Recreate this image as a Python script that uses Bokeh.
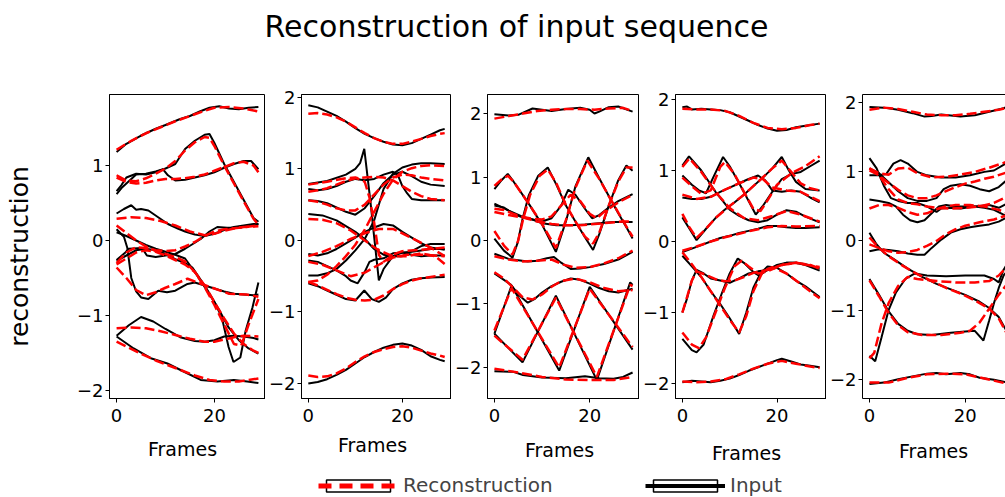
import math
from bokeh.plotting import figure
from bokeh.layouts import column, row
from bokeh.models import Label, Legend, LegendItem, FixedTicker, LinearAxis, Range1d
from bokeh.embed import file_html
from bokeh.resources import INLINE

FONT = "DejaVu Sans"
TITLE = "Reconstruction of input sequence"
Y_LABEL = "reconstruction"
X_LABEL = "Frames"
X_TICKS = [0, 20]
Y_TICKS = [[-2, -1, 0, 1], [-2, -1, 0, 1, 2], [-2, -1, 0, 1, 2], [-2, -1, 0, 1, 2], [-2, -1, 0, 1, 2]]
TICK_TEXT = {-2: "\u22122", -1: "\u22121", 0: "0", 1: "1", 2: "2", 20: "20"}
LEGEND_LABELS = ["Reconstruction", "Input"]

# ---------------- panel 1 (frame, value) ----------------
P1_IN = [
    [(0,1.18),(2,1.29),(5,1.40),(8,1.49),(10,1.54),(13,1.62),(15,1.66),(17,1.72),(19,1.77),(21,1.79),(23,1.76),(25,1.75),(27,1.77),(29,1.78)],
    [(0,0.66),(1,0.74),(2,0.84),(4,0.89),(6,0.88),(8,0.91),(10,0.96),(12,1.02),(13,1.12),(14,1.22),(16,1.33),(18,1.41),(19,1.42),(20,1.30),(22,1.02),(24,0.78),(26,0.54),(28,0.30),(29,0.25)],
    [(0,0.62),(1,0.70),(2,0.76),(4,0.88),(6,0.89),(8,0.92),(9.5,0.95),(10.5,0.87),(12,0.80),(14,0.81),(16,0.84),(18,0.87),(20,0.91),(22,0.97),(24,1.02),(26,1.06),(27.5,1.06),(29,0.95)],
    [(0,0.36),(1.5,0.42),(3,0.47),(4,0.41),(5,0.42),(6.5,0.40),(8.5,0.31),(10.5,0.22),(12.5,0.16),(14,0.12),(16,0.08),(18,0.06),(20,0.09),(22,0.14),(24,0.18),(26,0.20),(28,0.22),(29,0.22)],
    [(0,0.15),(1.5,0.05),(2.2,-0.10),(3,-0.50),(4,-0.68),(5,-0.76),(6.5,-0.78),(8.5,-0.67),(10.3,-0.69),(12,-0.67),(14.5,-0.58),(16,-0.56),(18,-0.60),(20,-0.64),(22,-0.68),(24,-0.71),(26,-0.72),(28,-0.73),(29,-0.72)],
    [(0,-1.27),(2.5,-1.13),(5,-1.02),(7.5,-1.08),(10,-1.18),(13,-1.29),(16,-1.34),(18,-1.35),(20,-1.33),(22,-1.28),(24,-1.27),(26,-1.28),(28,-1.30),(29,-1.32)],
    [(0,0.11),(2,0.06),(4,0.00),(6,-0.06),(8,-0.11),(10,-0.15),(12,-0.19),(14,-0.24),(16,-0.42),(18,-0.62),(20,-0.82),(21.5,-1.02),(22.9,-1.42),(23.9,-1.62),(25.3,-1.56),(26.4,-1.20),(27.8,-0.89),(29,-0.56)],
    [(0,-0.27),(2,-0.20),(4,-0.13),(6,-0.11),(8,-0.13),(10,-0.18),(12,-0.25),(14,-0.30),(15.5,-0.36),(18.2,-0.62),(21,-0.93),(22.9,-1.16),(25,-1.33),(27,-1.44),(29,-1.51)],
    [(0,-1.28),(3.5,-1.44),(7,-1.57),(10.4,-1.64),(13.8,-1.75),(17.2,-1.86),(20.6,-1.88),(24,-1.86),(26.7,-1.88),(29,-1.90)],
    [(0,-0.26),(1.8,-0.16),(2.5,-0.11),(5.2,-0.10),(6.2,-0.20),(8,-0.22),(10,-0.20),(12,-0.18),(14,-0.11),(16,-0.03),(17.2,0.02),(19,0.12),(20.6,0.18),(22.6,0.17),(25,0.17),(29,0.22)],
]
P1_RC = [
    [(0,1.21),(3,1.33),(6,1.43),(9,1.51),(12,1.59),(15,1.66),(18,1.73),(20,1.77),(23,1.78),(26,1.76),(29,1.72)],
    [(0,0.87),(2,0.80),(4,0.79),(6,0.83),(8,0.89),(10,0.96),(12,1.06),(14,1.20),(16,1.31),(18,1.38),(19,1.37),(20,1.26),(22,1.00),(24,0.76),(26,0.52),(28,0.29),(29,0.21)],
    [(0,0.84),(2,0.78),(4,0.76),(6,0.77),(8,0.80),(10,0.82),(12,0.82),(14,0.83),(16,0.85),(18,0.88),(20,0.93),(22,0.98),(24,1.03),(26,1.05),(28,1.00),(29,0.91)],
    [(0,0.29),(3,0.31),(6,0.30),(9,0.26),(12,0.20),(15,0.12),(18,0.07),(20,0.09),(22,0.13),(24,0.16),(26,0.18),(29,0.19)],
    [(0,-0.36),(2,-0.50),(4,-0.66),(6,-0.73),(8,-0.69),(10,-0.63),(12,-0.58),(14.5,-0.51),(17,-0.57),(20,-0.64),(23,-0.71),(26.5,-0.72),(29,-0.75)],
    [(0,-1.17),(3,-1.16),(6,-1.17),(9,-1.21),(12,-1.26),(15,-1.31),(18,-1.35),(20,-1.35),(22,-1.32),(24,-1.29),(26,-1.27),(29,-1.28)],
    [(0,0.20),(2,0.10),(4,0.00),(6,-0.08),(8,-0.14),(10,-0.18),(12,-0.22),(14,-0.28),(16,-0.42),(18,-0.62),(20,-0.86),(22,-1.12),(24,-1.38),(25.5,-1.40),(27,-1.12),(29,-0.78)],
    [(0,-0.32),(2,-0.24),(4,-0.16),(6,-0.13),(8,-0.15),(10,-0.20),(12,-0.26),(14,-0.32),(16,-0.42),(18,-0.60),(20,-0.82),(22,-1.04),(24,-1.24),(26,-1.38),(28,-1.47),(29,-1.50)],
    [(0,-1.35),(4,-1.48),(8,-1.60),(12,-1.70),(16,-1.80),(19,-1.86),(22,-1.88),(25,-1.88),(29,-1.84)],
    [(0,-0.30),(2,-0.16),(4,-0.09),(6,-0.10),(8,-0.13),(10,-0.14),(12,-0.13),(14,-0.08),(16,-0.02),(18,0.06),(20,0.12),(22,0.15),(25,0.17),(29,0.20)],
]

# ---------------- panel 2 ----------------
P2_IN = [
    [(0,1.89),(2,1.86),(4,1.80),(6,1.74),(8,1.66),(10,1.57),(12,1.49),(14,1.43),(16,1.38),(18,1.34),(20,1.33),(22,1.36),(24,1.42),(26,1.48),(28,1.54),(29,1.56)],
    [(0,-2.00),(2,-1.98),(4,-1.94),(6,-1.88),(8,-1.81),(10,-1.72),(12,-1.63),(14,-1.56),(16,-1.50),(18,-1.46),(20,-1.44),(22,-1.47),(24,-1.53),(26,-1.62),(28,-1.67),(29,-1.69)],
    [(0,-0.49),(2,-0.49),(4,-0.46),(6,-0.40),(8,-0.28),(10,-0.14),(12,0.02),(14,0.28),(16,0.72),(18,0.93),(20,1.02),(22,1.06),(24,1.08),(26,1.08),(29,1.07)],
    [(0,0.79),(4,0.83),(8,0.92),(10,1.00),(11,1.08),(11.9,1.28),(13.2,0.55),(14,0.05),(15,-0.56),(16,-0.40),(18,-0.22),(20,-0.17),(22,-0.16),(24,-0.14),(26,-0.12),(29,-0.12)],
    [(0,-0.60),(2,-0.64),(4,-0.70),(6,-0.76),(8,-0.82),(10,-0.84),(11.9,-0.70),(13.5,-0.82),(15,-0.86),(16.5,-0.80),(18,-0.68),(20,-0.60),(22,-0.55),(24,-0.53),(26,-0.52),(29,-0.51)],
    [(0,0.72),(2,0.70),(4,0.72),(6,0.76),(8,0.82),(10,0.86),(12,0.84),(14,0.86),(16,0.92),(18,0.96),(19,0.92),(20,0.76),(21,0.66),(22,0.58),(24,0.56),(26,0.56),(29,0.56)],
    [(0,0.56),(2,0.55),(4,0.52),(6,0.46),(8,0.40),(10,0.36),(12,0.45),(14,0.62),(16,0.80),(18,0.92),(20,0.96),(22,0.90),(24,0.82),(26,0.78),(29,0.76)],
    [(0,0.37),(3,0.35),(6,0.28),(8,0.20),(10,0.12),(12,0.02),(14,-0.12),(16,-0.20),(18,-0.22),(20,-0.22),(22,-0.15),(24,-0.08),(26,-0.05),(29,-0.05)],
    [(0,-0.19),(2,-0.21),(4,-0.18),(6,-0.12),(8,-0.04),(10,0.04),(12,0.12),(14,0.18),(16,0.23),(18,0.21),(20,0.12),(22,0.04),(24,-0.04),(26,-0.10),(29,-0.13)],
    [(0,-0.28),(2,-0.30),(4,-0.36),(6,-0.42),(8,-0.50),(9,-0.56),(10.5,-0.60),(12,-0.44),(13,-0.30),(14,-0.27),(16,-0.25),(18,-0.18),(20,-0.17),(22,-0.20),(24,-0.22),(26,-0.21),(29,-0.21)],
]
P2_RC = [
    [(0,1.77),(2,1.78),(4,1.76),(6,1.72),(8,1.66),(10,1.58),(12,1.50),(14,1.43),(16,1.38),(18,1.35),(20,1.35),(22,1.38),(24,1.42),(26,1.46),(28,1.49),(29,1.50)],
    [(0,-1.89),(2,-1.91),(4,-1.90),(6,-1.86),(8,-1.79),(10,-1.70),(12,-1.62),(14,-1.56),(16,-1.52),(18,-1.49),(20,-1.48),(22,-1.50),(24,-1.54),(26,-1.58),(28,-1.61),(29,-1.63)],
    [(0,-0.58),(2,-0.56),(4,-0.48),(6,-0.36),(8,-0.22),(10,-0.06),(12,0.15),(14,0.40),(16,0.65),(18,0.85),(20,0.96),(22,1.01),(24,1.04),(26,1.05),(29,1.04)],
    [(0,0.78),(4,0.82),(8,0.87),(10,0.88),(12,0.82),(13,0.60),(14,0.25),(15,-0.20),(16,-0.30),(18,-0.20),(20,-0.15),(24,-0.13),(29,-0.10)],
    [(0,-0.58),(2,-0.63),(4,-0.69),(6,-0.75),(8,-0.80),(10,-0.83),(12,-0.84),(14,-0.83),(16,-0.77),(18,-0.68),(20,-0.61),(22,-0.56),(24,-0.53),(26,-0.51),(28,-0.49),(29,-0.48)],
    [(0,0.68),(2,0.70),(4,0.73),(6,0.78),(8,0.83),(10,0.87),(12,0.88),(14,0.89),(16,0.88),(18,0.84),(20,0.76),(22,0.68),(24,0.62),(26,0.58),(29,0.56)],
    [(0,0.56),(2,0.54),(4,0.50),(6,0.45),(8,0.42),(10,0.42),(12,0.50),(14,0.64),(16,0.78),(18,0.88),(20,0.92),(22,0.91),(24,0.88),(26,0.86),(29,0.84)],
    [(0,0.30),(3,0.29),(6,0.24),(9,0.14),(12,0.00),(15,-0.14),(18,-0.22),(21,-0.22),(24,-0.18),(27,-0.22),(29,-0.33)],
    [(0,-0.22),(3,-0.16),(6,-0.08),(9,0.02),(12,0.10),(15,0.16),(18,0.16),(20,0.10),(23,0.00),(26,-0.10),(29,-0.22)],
    [(0,-0.30),(3,-0.34),(6,-0.42),(9,-0.50),(12,-0.45),(15,-0.34),(18,-0.24),(21,-0.20),(24,-0.20),(29,-0.22)],
]

# ---------------- panel 3 ----------------
P3_IN = [
    [(0,1.99),(3,1.97),(5,1.98),(8,2.08),(10,2.06),(12,2.04),(15,2.07),(18,2.09),(20,2.06),(21,2.00),(22,2.03),(24,2.10),(26,2.11),(29,2.03)],
    [(0,-2.06),(4,-2.07),(6,-2.12),(10,-2.16),(15,-2.17),(19,-2.14),(22,-2.17),(25,-2.18),(27,-2.15),(29,-2.08)],
    [(0,0.81),(1.5,0.95),(2.8,1.05),(4,0.93),(7.2,0.58),(10,0.25),(12.9,-0.18),(15,0.30),(17,0.85),(19.7,1.31),(22,0.98),(24,0.70),(26,0.43),(28,0.17),(29,0.03)],
    [(0,0.03),(2,-0.16),(3.8,-0.27),(4.9,-0.03),(5.9,0.34),(7.2,0.71),(9.2,1.02),(11.2,1.15),(13,0.88),(15,0.55),(17,0.30),(19,0.05),(20.7,-0.15),(22,0.10),(24,0.55),(26,0.95),(27.7,1.18),(29,1.10)],
    [(0,0.58),(3,0.47),(6,0.37),(8,0.33),(10,0.27),(13,0.24),(16,0.24),(19,0.25),(22,0.27),(25,0.29),(29,0.29)],
    [(0,0.55),(2,0.52),(4,0.42),(6,0.36),(8,0.33),(10,0.30),(12,0.35),(14,0.55),(15.5,0.80),(17,0.72),(19,0.50),(20.5,0.35),(22,0.40),(24,0.52),(26,0.62),(29,0.73)],
    [(0,-0.21),(3,-0.29),(5,-0.31),(7,-0.33),(9,-0.32),(11,-0.28),(12.5,-0.26),(14,-0.35),(16,-0.45),(18,-0.44),(20,-0.42),(23,-0.37),(26,-0.30),(29,-0.18)],
    [(0,-0.52),(2,-0.62),(3.5,-0.70),(5,-0.85),(7,-0.98),(8.5,-0.92),(10,-0.82),(12,-0.72),(14,-0.65),(16,-0.60),(18,-0.62),(20,-0.68),(22,-0.75),(24,-0.80),(26,-0.82),(29,-0.76)],
    [(0,-1.47),(3.6,-0.71),(13.6,-2.05),(20,-0.73),(29,-1.72)],
    [(0,-1.47),(5.9,-1.92),(12.9,-0.87),(21.5,-2.20),(28.5,-0.66),(29,-0.70)],
]
P3_RC = [
    [(0,1.92),(3,1.96),(6,2.00),(9,2.04),(12,2.06),(15,2.07),(18,2.07),(21,2.06),(24,2.08),(27,2.09),(29,2.04)],
    [(0,-2.02),(5,-2.08),(10,-2.15),(15,-2.19),(20,-2.20),(25,-2.20),(29,-2.15)],
    [(0,0.86),(1.5,0.96),(2.8,1.02),(4,0.93),(7,0.60),(10,0.26),(12.9,-0.12),(15,0.32),(17,0.83),(19.5,1.26),(22,0.97),(24,0.70),(26,0.44),(28,0.18),(29,0.06)],
    [(0,0.15),(2,-0.08),(3.8,-0.22),(5,0.00),(6,0.33),(7.5,0.72),(9.5,1.02),(11.2,1.12),(13,0.90),(15,0.56),(17,0.30),(19,0.06),(20.7,-0.05),(22,0.12),(24,0.55),(26,0.93),(27.7,1.15),(29,1.15)],
    [(0,0.45),(3,0.40),(6,0.36),(9,0.30),(12,0.26),(15,0.24),(18,0.24),(21,0.26),(24,0.28),(27,0.30),(29,0.30)],
    [(0,0.50),(2,0.48),(4,0.42),(6,0.37),(8,0.34),(10,0.33),(12,0.38),(14,0.55),(16,0.72),(18,0.62),(20,0.42),(21.5,0.35),(23,0.45),(26,0.60),(29,0.72)],
    [(0,-0.25),(3,-0.30),(6,-0.33),(9,-0.32),(12,-0.30),(14.5,-0.38),(17,-0.43),(20,-0.42),(23,-0.36),(26,-0.28),(29,-0.16)],
    [(0,-0.50),(2,-0.60),(4,-0.75),(6,-0.90),(8,-0.93),(10,-0.85),(12,-0.73),(14,-0.64),(17,-0.60),(20,-0.66),(23,-0.75),(26,-0.80),(29,-0.78)],
    [(0,-1.42),(3.6,-0.75),(13.6,-2.00),(20,-0.76),(29,-1.68)],
    [(0,-1.50),(5.9,-1.88),(12.9,-0.90),(21.5,-2.15),(28.5,-0.70),(29,-0.72)],
]

# ---------------- panel 4 ----------------
P4_IN = [
    [(0,1.89),(1,1.90),(2,1.86),(4,1.87),(6,1.86),(8,1.85),(10,1.82),(12,1.76),(14,1.70),(16,1.64),(18,1.59),(20,1.56),(22,1.57),(24,1.61),(26,1.63),(29,1.66)],
    [(0,-1.98),(2,-1.96),(4,-1.97),(6,-1.98),(8,-1.96),(10,-1.93),(12,-1.88),(14,-1.82),(16,-1.77),(18,-1.72),(20,-1.67),(21,-1.65),(23,-1.69),(25,-1.73),(27,-1.75),(29,-1.77)],
    [(0,1.07),(1.4,1.20),(4,1.00),(7,0.70),(10,0.45),(12,0.36),(14,0.30),(16,0.27),(18,0.30),(20,0.38),(22,0.44),(24,0.42),(26,0.35),(29,0.27)],
    [(0,0.93),(2,0.80),(3.5,0.72),(5,0.68),(6.5,0.90),(8.6,1.19),(10,1.06),(12,0.82),(14,0.57),(15.5,0.38),(17,0.50),(19,0.70),(21,0.88),(23,0.95),(25,0.98),(27,1.06),(29,1.14)],
    [(0,0.34),(1.5,0.18),(3,0.02),(5,0.18),(7,0.33),(9,0.45),(11,0.55),(13,0.66),(15,0.78),(17,0.90),(19,1.03),(21,1.19),(22.5,1.00),(24,0.84),(26,0.74),(29,0.72)],
    [(0,0.62),(2,0.60),(4,0.60),(6,0.63),(8,0.70),(10,0.76),(12,0.82),(14,0.88),(16,0.93),(17.5,0.86),(19,0.72),(21,0.70),(23,0.72),(25,0.70),(27,0.62),(29,0.55)],
    [(0,-0.15),(2,-0.10),(4,-0.05),(6,0.00),(8,0.05),(10,0.08),(12,0.12),(14,0.15),(16,0.18),(18,0.22),(20,0.22),(22,0.20),(24,0.19),(26,0.19),(29,0.20)],
    [(0,-1.37),(2,-1.53),(3,-1.56),(4.5,-1.45),(6.6,-1.04),(8.5,-0.70),(10,-0.45),(11.7,-0.24),(13,-0.30),(15,-0.43),(16.2,-0.48),(18,-0.40),(20,-0.33),(22,-0.30),(24,-0.30),(26,-0.33),(29,-0.41)],
    [(0,-0.20),(2,-0.35),(4,-0.50),(6,-0.70),(8,-0.88),(10,-1.08),(12,-1.30),(13.5,-1.00),(15,-0.65),(16.5,-0.45),(18,-0.35),(20,-0.37),(22,-0.45),(24,-0.55),(26,-0.63),(29,-0.78)],
    [(0,-1.00),(1,-0.80),(2,-0.55),(3,-0.40),(4.5,-0.45),(6,-0.52),(8,-0.55),(10,-0.58),(12,-0.52),(14,-0.45),(16,-0.42),(18,-0.40),(20,-0.35),(22,-0.30),(24,-0.30),(26,-0.32),(29,-0.38)],
]
P4_RC = [
    [(0,1.87),(3,1.86),(6,1.86),(9,1.84),(12,1.77),(15,1.67),(18,1.60),(21,1.58),(24,1.60),(27,1.64),(29,1.66)],
    [(0,-1.97),(3,-1.98),(6,-1.97),(9,-1.94),(12,-1.87),(15,-1.79),(18,-1.72),(21,-1.68),(24,-1.72),(27,-1.76),(29,-1.78)],
    [(0,1.05),(1.5,1.17),(4,0.98),(7,0.70),(10,0.47),(13,0.33),(16,0.30),(19,0.36),(22,0.43),(25,0.38),(29,0.28)],
    [(0,0.90),(2,0.78),(4,0.67),(6,0.72),(8,1.05),(9,1.12),(11,0.95),(13,0.70),(15,0.46),(16.5,0.43),(18,0.58),(20,0.80),(23,0.96),(26,1.06),(29,1.20)],
    [(0,0.39),(1.5,0.20),(3,0.05),(5,0.18),(7,0.33),(10,0.50),(13,0.66),(16,0.84),(19,1.03),(21,1.14),(23,0.98),(25,0.82),(27,0.75),(29,0.72)],
    [(0,0.66),(3,0.60),(6,0.63),(9,0.73),(12,0.82),(15,0.90),(17,0.88),(19,0.76),(22,0.72),(25,0.70),(29,0.57)],
    [(0,-0.13),(3,-0.07),(6,0.00),(9,0.06),(12,0.11),(15,0.16),(18,0.20),(21,0.22),(24,0.21),(29,0.22)],
    [(0,-1.28),(2,-1.45),(3.5,-1.50),(5,-1.35),(7,-1.00),(9,-0.65),(11,-0.35),(12.5,-0.27),(14,-0.35),(16,-0.45),(18,-0.42),(21,-0.33),(24,-0.30),(27,-0.33),(29,-0.38)],
    [(0,-0.15),(2,-0.32),(4,-0.50),(6,-0.70),(8,-0.90),(10,-1.10),(12,-1.28),(13.5,-1.05),(15,-0.70),(17,-0.42),(19,-0.36),(22,-0.45),(25,-0.60),(29,-0.80)],
    [(0,-1.00),(1,-0.78),(2,-0.55),(3,-0.42),(5,-0.47),(7,-0.53),(9,-0.56),(11,-0.55),(13,-0.50),(15,-0.44),(18,-0.40),(21,-0.33),(24,-0.30),(29,-0.36)],
]

# ---------------- panel 5 ----------------
P5_IN = [
    [(0,1.94),(3,1.93),(6,1.90),(9,1.85),(11.5,1.80),(13,1.81),(15,1.83),(18,1.81),(19,1.80),(22,1.82),(25,1.87),(28,1.92),(29,1.95)],
    [(0,-2.07),(3,-2.05),(6,-2.00),(9,-1.96),(12,-1.92),(14,-1.91),(16,-1.93),(19,-1.91),(21,-1.93),(23,-1.98),(26,-2.01),(29,-2.05)],
    [(0,-1.66),(1.2,-1.74),(2.5,-1.40),(4,-1.00),(5.5,-0.75),(7.5,-0.55),(9.5,-0.47),(12,-0.50),(16,-0.51),(20,-0.50),(24,-0.50),(26,-0.55),(27,-0.60),(28,-0.42),(29,-0.30)],
    [(0,-0.55),(2,-0.78),(4,-1.02),(6,-1.20),(8,-1.30),(10,-1.35),(13,-1.36),(17,-1.33),(20,-1.31),(22,-1.30),(23.8,-1.44),(25,-1.15),(26,-0.90),(27,-0.68),(28,-0.50),(29,-0.42)],
    [(0,0.12),(1.5,-0.05),(3,-0.17),(5,-0.26),(8,-0.40),(11,-0.52),(14,-0.62),(17,-0.70),(20,-0.78),(23,-0.88),(25,-0.97),(27,-1.10),(29,-1.35)],
    [(0,-0.15),(2,-0.12),(4,-0.13),(6,-0.15),(8,-0.18),(10,-0.20),(11.5,-0.20),(13,-0.10),(15,0.02),(17,0.12),(19,0.17),(21,0.20),(23,0.22),(25,0.24),(27,0.28),(29,0.35)],
    [(0,0.95),(2,0.95),(3.5,0.97),(5,1.12),(6.5,1.17),(8,1.12),(10,1.00),(12,0.95),(15,0.92),(18,0.92),(21,0.95),(24,1.00),(26,1.02),(28,1.10),(29,1.17)],
    [(0,1.05),(2,0.98),(4,0.85),(6,0.72),(8,0.62),(10,0.58),(12,0.58),(14,0.62),(15.5,0.75),(17,0.80),(19,0.82),(21,0.80),(23,0.75),(25,0.72),(27,0.78),(29,0.90)],
    [(0,1.20),(1.5,1.05),(3,0.80),(4.5,0.62),(6,0.58),(8,0.55),(10,0.55),(12,0.50),(14,0.42),(15,0.47),(16.5,0.48),(19,0.47),(22,0.50),(25,0.52),(27,0.48),(29,0.55)],
    [(0,0.60),(2,0.58),(4,0.55),(5.5,0.50),(7,0.38),(8.5,0.30),(10,0.27),(11.5,0.30),(13,0.40),(14.5,0.50),(16,0.52),(18,0.50),(20,0.50),(22,0.50),(24,0.48),(26,0.45),(28,0.38),(29,0.36)],
]
P5_RC = [
    [(0,1.90),(3,1.93),(6,1.91),(9,1.87),(12,1.83),(15,1.82),(18,1.82),(21,1.84),(24,1.87),(27,1.90),(29,1.93)],
    [(0,-2.05),(4,-2.05),(8,-1.98),(12,-1.93),(16,-1.92),(20,-1.93),(24,-1.99),(29,-2.07)],
    [(0,-1.70),(1,-1.62),(2.5,-1.20),(4,-0.90),(6,-0.65),(8,-0.52),(10,-0.55),(14,-0.58),(18,-0.60),(22,-0.60),(25,-0.58),(27,-0.50),(29,-0.35)],
    [(0,-0.57),(2,-0.80),(4,-1.04),(6,-1.22),(8,-1.32),(11,-1.36),(15,-1.36),(19,-1.33),(21,-1.30),(23,-1.18),(25,-0.98),(27,-0.78),(29,-0.60)],
    [(0,0.05),(2,-0.10),(4,-0.22),(7,-0.36),(10,-0.48),(13,-0.58),(16,-0.68),(19,-0.76),(22,-0.86),(25,-0.98),(27,-1.12),(29,-1.38)],
    [(0,-0.05),(2,-0.10),(4,-0.15),(6,-0.17),(8,-0.16),(10,-0.13),(12,-0.07),(14,0.00),(16,0.10),(18,0.17),(20,0.22),(23,0.27),(26,0.31),(29,0.38)],
    [(0,1.05),(2,0.98),(4,0.96),(6,1.05),(8,1.06),(10,0.98),(13,0.92),(16,0.93),(19,0.96),(22,1.00),(25,1.06),(28,1.13),(29,1.16)],
    [(0,1.02),(2,0.95),(4,0.84),(6,0.74),(8,0.66),(10,0.62),(12,0.62),(14,0.66),(16,0.72),(18,0.78),(20,0.83),(22,0.86),(24,0.90),(26,0.93),(29,1.00)],
    [(0,1.05),(2,0.95),(4,0.75),(6,0.60),(8,0.55),(10,0.53),(12,0.50),(14,0.48),(17,0.47),(20,0.48),(23,0.50),(26,0.55),(29,0.65)],
    [(0,0.47),(2,0.52),(4,0.52),(6,0.48),(8,0.42),(10,0.38),(12,0.40),(14,0.46),(16,0.50),(18,0.52),(21,0.52),(24,0.50),(27,0.45),(29,0.40)],
]

PANELS = [(P1_IN, P1_RC), (P2_IN, P2_RC), (P3_IN, P3_RC), (P4_IN, P4_RC), (P5_IN, P5_RC)]

# ---------------- layout (pixels / axis limits) ----------------
Y_LIMITS = [(-2.107, 1.947), (-2.21, 2.04), (-2.49, 2.30), (-2.21, 2.07), (-2.28, 2.12)]
X_LIMITS = [(-1.45, 30.45)] * 4 + [(-1.45, 28.41)]
YLAB_W = 44
WIDTHS = [221, 186, 188, 187, 179]
LEFT_BORDERS = [65, 33, 33, 33, 33]
HEAD_H = 78
TOP_B = 16
FRAME_H = 304
BOT_B = 32
ROW_H = TOP_B + FRAME_H + BOT_B
FOOT_H = 497 - HEAD_H - ROW_H
FULL_W = YLAB_W + sum(WIDTHS)
XLABEL_X = [182, 372, 559, 746, 933]      # window x of each "Frames" centre
XLABEL_Y = [448, 444, 449, 452, 450]      # window y of each "Frames" centre
YLABEL_POS = (19, 142)                    # screen position inside the y-title strip


def split(lines):
    return [[pt[0] for pt in ln] for ln in lines], [[pt[1] for pt in ln] for ln in lines]


def blank(width, height):
    f = figure(width=width, height=height, x_range=Range1d(0, 1), y_range=Range1d(0, 1),
               output_backend="svg", toolbar_location=None, min_border=0,
               x_axis_type=None, y_axis_type=None, outline_line_color=None)
    f.grid.visible = False
    return f


def style_axis(ax, ticks, label_standoff):
    ax.ticker = FixedTicker(ticks=ticks)
    ax.major_label_overrides = {t: TICK_TEXT[t] for t in ticks}
    ax.axis_line_color = "black"
    ax.axis_line_width = 1
    ax.major_tick_line_color = "black"
    ax.major_tick_line_width = 1
    ax.major_tick_out = 4
    ax.major_tick_in = 0
    ax.minor_tick_line_color = None
    ax.minor_tick_out = 0
    ax.minor_tick_in = 0
    ax.major_label_text_font = FONT
    ax.major_label_text_font_size = "18px"
    ax.major_label_text_color = "black"
    ax.major_label_standoff = label_standoff


figs = []
for i, (inp, rec) in enumerate(PANELS):
    p = figure(width=WIDTHS[i], height=ROW_H,
               x_range=Range1d(*X_LIMITS[i]), y_range=Range1d(*Y_LIMITS[i]),
               output_backend="svg", toolbar_location=None,
               min_border_left=LEFT_BORDERS[i], min_border_right=0,
               min_border_top=TOP_B, min_border_bottom=BOT_B)
    p.xgrid.grid_line_color = None
    p.ygrid.grid_line_color = None
    p.background_fill_color = "white"
    p.border_fill_color = "white"
    style_axis(p.xaxis[0], X_TICKS, 6)
    style_axis(p.yaxis[0], Y_TICKS[i], 2)
    if i < 4:
        p.outline_line_color = "black"
        p.outline_line_width = 1
    else:
        p.outline_line_color = None
        top = LinearAxis(ticker=FixedTicker(ticks=[]), major_tick_out=0, major_tick_in=0,
                         minor_tick_out=0, minor_tick_in=0, major_label_standoff=0,
                         axis_line_color="black", axis_line_width=1)
        p.add_layout(top, "above")
    xs, ys = split(inp)
    p.multi_line(xs, ys, line_color="black", line_width=2)
    xs, ys = split(rec)
    p.multi_line(xs, ys, line_color="red", line_width=2.5, line_dash="10 4")
    figs.append(p)

# y-axis title strip (left of first panel)
ylab = blank(YLAB_W, ROW_H)
ylab.add_layout(Label(x=YLABEL_POS[0], y=YLABEL_POS[1], x_units="screen", y_units="screen",
                      text=Y_LABEL, angle=math.pi / 2, text_font=FONT, text_font_size="25px",
                      text_color="black", text_align="center", text_baseline="middle"))

# title strip
head = blank(FULL_W, HEAD_H)
head.add_layout(Label(x=516, y=52, x_units="screen", y_units="screen", text=TITLE,
                      text_font=FONT, text_font_size="30px", text_color="black",
                      text_align="center", text_baseline="alphabetic"))

# x titles + legend strip
foot = blank(FULL_W, FOOT_H)
foot_top = HEAD_H + ROW_H
for xc, yc in zip(XLABEL_X, XLABEL_Y):
    foot.add_layout(Label(x=xc, y=FOOT_H - (yc - foot_top), x_units="screen", y_units="screen",
                          text=X_LABEL, text_font=FONT, text_font_size="19px", text_color="black",
                          text_align="center", text_baseline="middle"))

box_a = foot.rect(x=[-5], y=[-5], width=1, height=1, fill_color="white", line_color="black", line_width=1.5)
box_b = foot.rect(x=[-5], y=[-5], width=1, height=1, fill_color="white", line_color="black", line_width=1.5)
dash_r = foot.line(x=[-5, -4], y=[-5, -5], line_color="red", line_width=5, line_dash="13 8")
solid_r = foot.line(x=[-5, -4], y=[-5, -5], line_color="black", line_width=4)

for label, rends, loc in [(LEGEND_LABELS[0], [box_a, dash_r], (318, 0)),
                          (LEGEND_LABELS[1], [box_b, solid_r], (645, 0))]:
    lg = Legend(items=[LegendItem(label=label, renderers=rends)], location=loc,
                orientation="horizontal", glyph_width=80, glyph_height=15,
                label_standoff=5, padding=0, margin=0, spacing=0,
                border_line_color=None, background_fill_alpha=0,
                label_text_font=FONT, label_text_font_size="20px", label_height=15)
    foot.add_layout(lg)

layout = column(head, row(ylab, *figs), foot)
open("out.html", "w").write(file_html(layout, INLINE))
